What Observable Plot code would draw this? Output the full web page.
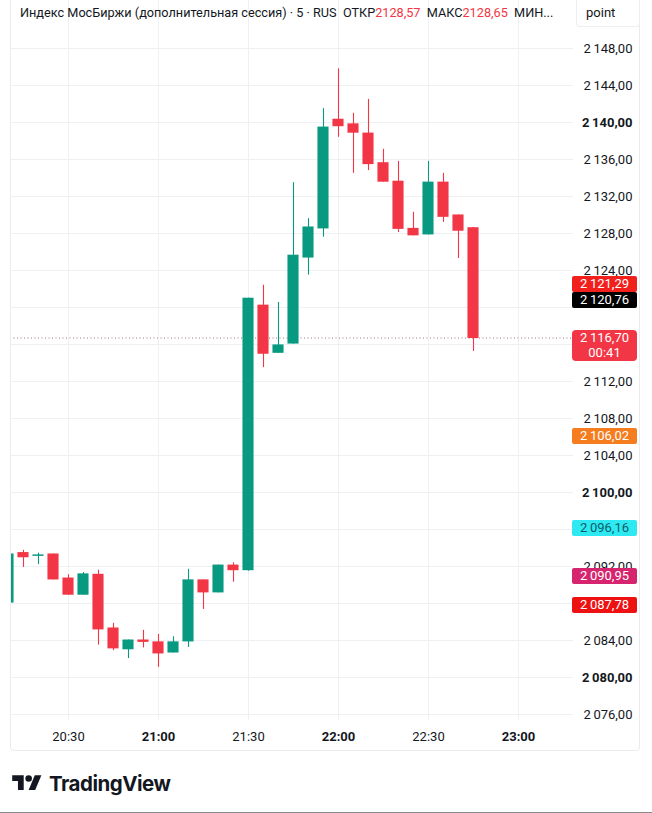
<!DOCTYPE html>
<html><head><meta charset="utf-8">
<script src="https://cdn.jsdelivr.net/npm/d3@7"></script>
<script src="https://cdn.jsdelivr.net/npm/@observablehq/plot@0.6"></script>
<style>
body{margin:0;background:#fff;font-family:Roboto,"Noto Sans",sans-serif;color:#131722;}
#wrap{position:relative;width:652px;height:813px;overflow:hidden;background:#fff;}
#frame{position:absolute;left:10px;top:-4px;width:630px;height:755px;border:1px solid #e9ebef;border-radius:4px;box-sizing:border-box;pointer-events:none;}
#chart{position:absolute;left:0;top:0;}
#header{position:absolute;left:20px;top:5px;font-size:12.7px;white-space:nowrap;color:#131722;}
#header .v{color:#f23645;}
#point{position:absolute;left:576px;top:-1px;width:64px;height:28px;border:1px solid #eceef2;border-top:none;border-radius:0 0 4px 4px;background:#fff;box-sizing:border-box;font-size:13px;padding:6px 0 0 9px;}
.lbl{position:absolute;left:572px;width:65px;height:16px;line-height:16px;font-size:13px;text-align:center;color:#fff;border-radius:2px;}
#logo{position:absolute;left:12px;top:771px;display:flex;align-items:center;}
#logo span{font-family:Inter,Roboto,sans-serif;font-weight:700;font-size:20.5px;letter-spacing:-0.5px;margin-left:7px;color:#131722;}
#bottomline{position:absolute;left:0;top:812px;width:652px;height:1px;background:#8a8a8a;}
</style></head>
<body><div id="wrap"><div id="chart"></div><div id="frame"></div>
<div id="header"></div><div id="point">point</div>
<div id="logo"><svg width="30" height="23" viewBox="0 0 36 28"><path d="M14 22H7V11H0V4h14v18z" fill="#131722"/><circle cx="20" cy="8" r="4" fill="#131722"/><path d="M28 22h-8l7.5-18h8L28 22z" fill="#131722"/></svg><span>TradingView</span></div>
<div id="bottomline"></div>
</div>
<script>
// ---- data ----
const times  = ["20:10","20:15","20:20","20:25","20:30","20:35","20:40","20:45","20:50","20:55","21:00","21:05","21:10","21:15","21:20","21:25","21:30","21:35","21:40","21:45","21:50","21:55","22:00","22:05","22:10","22:15","22:20","22:25","22:30","22:35","22:40","22:45"];
const opens  = [2088.10,2093.45,2093.15,2093.30,2090.70,2088.95,2091.10,2085.30,2083.05,2084.00,2083.80,2082.70,2083.90,2090.50,2089.20,2092.10,2091.60,2120.20,2115.10,2116.10,2125.40,2128.55,2140.30,2139.80,2138.80,2135.60,2133.60,2128.50,2127.90,2133.50,2129.95,2128.57];
const highs  = [2093.50,2093.75,2093.45,2093.35,2091.10,2091.35,2091.60,2085.85,2084.05,2085.10,2084.65,2084.40,2091.70,2090.55,2092.15,2092.40,2121.00,2122.40,2120.55,2133.50,2129.60,2141.50,2145.80,2141.00,2142.50,2137.10,2135.80,2130.30,2135.80,2134.50,2130.00,2128.65];
const lows   = [2088.00,2091.90,2092.20,2090.55,2088.90,2088.90,2083.50,2082.90,2082.05,2083.20,2081.10,2082.65,2083.25,2087.35,2089.15,2090.30,2091.50,2113.50,2115.05,2116.05,2123.50,2127.60,2138.40,2134.50,2134.80,2133.55,2128.10,2127.75,2127.85,2129.20,2125.30,2115.25];
const closes = [2093.30,2093.00,2093.20,2090.60,2088.95,2091.15,2085.20,2083.15,2084.00,2083.85,2082.60,2083.80,2090.50,2089.20,2092.10,2091.60,2120.95,2115.00,2115.90,2125.60,2128.65,2139.45,2139.60,2138.90,2135.50,2133.60,2128.50,2127.80,2133.50,2129.80,2128.30,2116.70];
const priceTicks = [2076,2080,2084,2088,2092,2096,2100,2104,2108,2112,2116,2120,2124,2128,2132,2136,2140,2144,2148];
const boldPriceTicks = [2080,2100,2140];
const timeTicks = ["20:30","21:00","21:30","22:00","22:30","23:00"];
const boldTimeTicks = ["21:00","22:00","23:00"];
const lastPrice = 2116.70;
const countdown = "00:41";
const markerValues = [2121.29,2120.76,2106.02,2096.16,2090.95,2087.78];
const markerColors = ["#f2201c","#000000","#f57c1f","#2ee8f2","#d6246e","#ee1111"];
const markerText   = ["#fff","#fff","#fff","#0c5f66","#fff","#fff"];
const title = "Индекс МосБиржи (дополнительная сессия) · 5 · RUS";
const headerOpen = "2128,57", headerHigh = "2128,65";

// ---- build ----
const UP = "#089981", DOWN = "#f23645";
const toMin = s => { const [h,m] = s.split(":").map(Number); return h*60 + m - 20*60; };
const candles = times.map((t,i) => ({m: toMin(t), o: opens[i], h: highs[i], l: lows[i], c: closes[i], up: closes[i] >= opens[i]}));
const fmt = d3.formatLocale({decimal: ",", thousands: "\u2009", grouping: [3], currency: ["",""]}).format(",.2f");

const yOpts = {domain: [2076, 2148], range: [714, 48]};
const ys = Plot.scale({y: yOpts});

// axis price markers (positions from the y scale, pushed apart like TradingView)
let items = markerValues.map((v,i) => ({v, y: ys.apply(v), h: 16, bg: markerColors[i], fg: markerText[i], lines: [fmt(v)]}));
items.push({v: lastPrice, y: ys.apply(lastPrice), h: 31, bg: DOWN, fg: "#fff", lines: [fmt(lastPrice), countdown], r: 4});
items.sort((a,b) => b.y - a.y);
let floorTop = Infinity;
for (const it of items) {
  let top = it.y - 8;
  if (top + it.h > floorTop) top = floorTop - it.h;
  it.top = top; floorTop = top;
}
// tick labels whose centre falls under a marker are hidden by it
const hidden = v => { const y = ys.apply(v); return items.some(it => y >= it.top - 1 && y <= it.top + it.h + 1); };
const normalPrice = priceTicks.filter(v => !boldPriceTicks.includes(v) && !hidden(v));
const boldPrice = boldPriceTicks.filter(v => !hidden(v));
const normalTime = timeTicks.filter(t => !boldTimeTicks.includes(t));

const chart = Plot.plot({
  width: 652, height: 813,
  marginLeft: 10, marginRight: 79, marginTop: 0, marginBottom: 93,
  x: {type: "linear", domain: [30, 180], range: [68, 518], axis: null},
  y: {...yOpts, axis: null},
  style: {fontFamily: "Roboto, 'Noto Sans', sans-serif", fontSize: "13px", background: "transparent", overflow: "visible"},
  marks: [
    Plot.ruleY(priceTicks, {stroke: "#eef0f4", strokeWidth: 1}),
    Plot.ruleX(timeTicks, {x: toMin, stroke: "#eef0f4", strokeWidth: 1}),
    Plot.ruleY([lastPrice], {stroke: "#a9737a", strokeDasharray: "1 2.5", strokeWidth: 1}),
    Plot.ruleX(candles, {x: "m", y1: "l", y2: "h", stroke: d => d.up ? UP : DOWN, strokeWidth: 1.1, clip: true}),
    Plot.rect(candles, {x1: d => d.m - 1.85, x2: d => d.m + 1.85, y1: "o", y2: "c", fill: d => d.up ? UP : DOWN, insetTop: -0.5, insetBottom: -0.5, clip: true}),
    Plot.text(normalPrice, {y: d => d, text: fmt, frameAnchor: "right", dx: 59, textAnchor: "end", fill: "#131722"}),
    Plot.text(boldPrice, {y: d => d, text: fmt, frameAnchor: "right", dx: 59, textAnchor: "end", fill: "#131722", fontWeight: 700}),
    Plot.text(normalTime, {x: toMin, text: d => d, frameAnchor: "bottom", dy: 20, fill: "#131722"}),
    Plot.text(boldTimeTicks, {x: toMin, text: d => d, frameAnchor: "bottom", dy: 20, fill: "#131722", fontWeight: 700})
  ]
});
document.getElementById("chart").appendChild(chart);

document.getElementById("header").innerHTML =
  `${title}&nbsp; ОТКР<span class="v">${headerOpen}</span>&nbsp; МАКС<span class="v">${headerHigh}</span>&nbsp; МИН...`;

const wrap = document.getElementById("wrap");
for (const it of items) {
  const d = document.createElement("div");
  d.className = "lbl";
  d.style.top = it.top + "px";
  d.style.height = it.h + "px";
  d.style.background = it.bg;
  d.style.color = it.fg;
  if (it.r) d.style.borderRadius = it.r + "px";
  d.innerHTML = it.lines.join("<br>");
  d.style.lineHeight = it.lines.length > 1 ? "15px" : "16px";
  wrap.appendChild(d);
}
</script>
</body></html>
